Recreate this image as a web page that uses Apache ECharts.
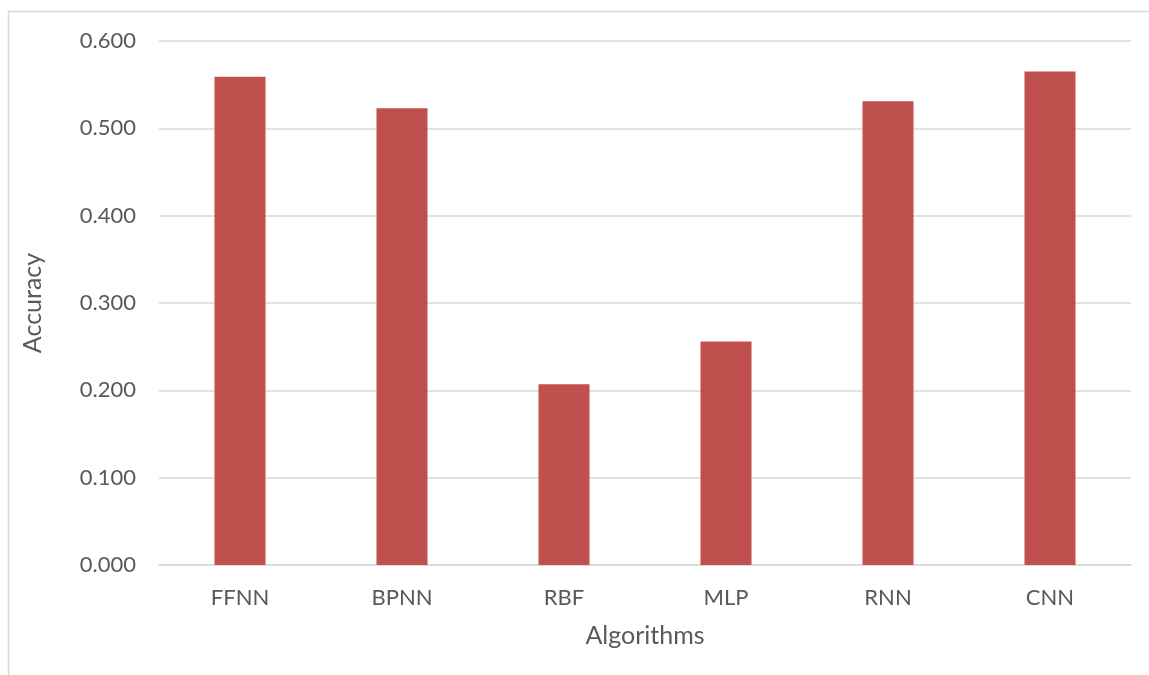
<!DOCTYPE html>
<html>
<head>
<meta charset="utf-8">
<script src="https://cdn.jsdelivr.net/npm/echarts@6/dist/echarts.min.js"></script>
<style>
  html, body { margin: 0; padding: 0; background: #fff; }
  #chart { width: 1149px; height: 675px; }
</style>
</head>
<body>
<div id="chart"></div>
<script>
const algorithms = ["FFNN", "BPNN", "RBF", "MLP", "RNN", "CNN"];
const accuracy = [0.559, 0.523, 0.207, 0.256, 0.531, 0.565];

const chart = echarts.init(document.getElementById("chart"));
const font = "Lato, 'Open Sans', sans-serif";

chart.setOption({
    backgroundColor: "#fff",
    animation: false,
    graphic: [{
        type: "rect",
        shape: { x: 8.5, y: 11.5, width: 1160, height: 700 },
        style: { fill: "none", stroke: "#d9d9d9", lineWidth: 1.5 },
        silent: true,
    }],
    grid: { left: 159, right: 18, top: 41, bottom: 110 },
    xAxis: {
        type: "category",
        data: algorithms,
        name: "Algorithms",
        nameLocation: "middle",
        nameGap: 58,
        nameTextStyle: { color: "#595959", fontSize: 25, fontFamily: font },
        axisLabel: { color: "#595959", fontSize: 22, fontFamily: font, margin: 22 },
        axisLine: { lineStyle: { color: "#d9d9d9", width: 1.5 } },
        axisTick: { show: false },
    },
    yAxis: {
        type: "value",
        min: 0,
        max: 0.6,
        interval: 0.1,
        name: "Accuracy",
        nameLocation: "middle",
        nameGap: 114,
        nameTextStyle: { color: "#595959", fontSize: 25, fontFamily: font },
        axisLabel: {
            color: "#595959", fontSize: 22, fontFamily: font, margin: 23,
            formatter: (v) => v.toFixed(3),
        },
        axisLine: { show: false },
        axisTick: { show: false },
        splitLine: { lineStyle: { color: "#d9d9d9", width: 1.5 } },
    },
    series: [{
        type: "bar",
        data: accuracy,
        barWidth: "31.5%",
        itemStyle: { color: "#c0504d" },
    }],
});
</script>
</body>
</html>
